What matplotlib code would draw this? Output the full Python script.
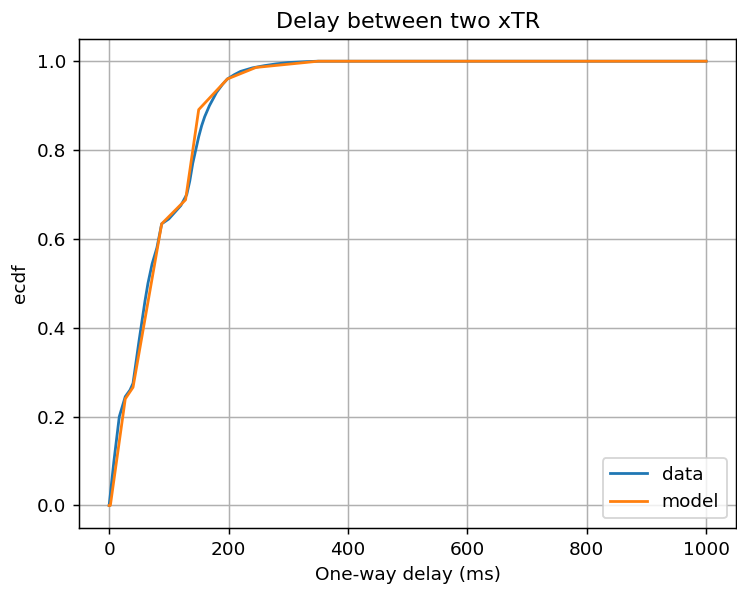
import numpy as np
import matplotlib.pyplot as plt

# empirical cdf of measured delays
data_x = [0, 8, 17, 27, 35, 40, 50, 60, 65, 72, 80, 88, 100, 110, 120, 130,
          135, 140, 145, 150, 155, 160, 168, 180, 190, 198, 210, 220, 240, 260,
          280, 300, 330, 350, 400, 500, 600, 700, 800, 900, 1000]
data_y = [0, 0.10, 0.20, 0.245, 0.26, 0.275, 0.37, 0.46, 0.50, 0.544, 0.58,
          0.634, 0.645, 0.66, 0.675, 0.70, 0.73, 0.77, 0.80, 0.83, 0.855, 0.875,
          0.90, 0.93, 0.948, 0.960, 0.970, 0.977, 0.985, 0.990, 0.994, 0.997,
          0.999, 1.0, 1.0, 1.0, 1.0, 1.0, 1.0, 1.0, 1.0]

# fitted model
model_x = [0, 2, 27, 40, 88, 128, 150, 198, 246, 350, 1000]
model_y = [0, 0, 0.24, 0.266, 0.634, 0.688, 0.891, 0.960, 0.986, 1.0, 1.0]

dpi = 133.3
fig = plt.figure(figsize=(737 / dpi, 590 / dpi), dpi=dpi)
ax = fig.add_subplot(111)
fig.subplots_adjust(left=0.1076, right=0.9986, bottom=0.1056, top=0.9339)

ax.plot(data_x, data_y, label='data')
ax.plot(model_x, model_y, label='model')
ax.set_title('Delay between two xTR')
ax.set_xlabel('One-way delay (ms)')
ax.set_ylabel('ecdf')
ax.grid(True)
ax.legend(loc='lower right')

plt.savefig('out.png', dpi=dpi)
